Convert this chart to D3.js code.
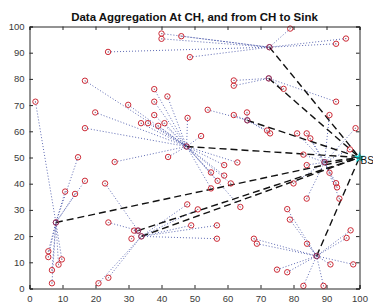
<!DOCTYPE html>
<html><head><meta charset="utf-8">
<script src="https://cdn.jsdelivr.net/npm/d3@7"></script>
<style>html,body{margin:0;padding:0;background:#fff;}svg{display:block;font-family:"Liberation Sans",Arial,sans-serif;}</style>
</head><body>
<script>
// Cluster heads
const chX = [8.0, 32.9, 33.9, 47.6, 72.7, 72.5, 66.0, 89.4, 87.0];
const chY = [25.2, 22.1, 19.9, 54.2, 92.1, 80.2, 64.2, 48.2, 12.4];
// Member nodes and the cluster head each one reports to
const nodeX = [1.8,14.7,16.8,10.8,13.8,5.7,5.7,9.8,8.8,6.8,6.8,
  22.9,23.9,30.9,31.7,20.9,23.9,47.8,51.0,49.0,56.8,56.8,
  16.8,29.9,37.8,41.8,37.8,19.9,37.8,47.9,33.8,35.9,39.0,40.9,16.8,25.8,42.0,52.0,59.0,63.0,55.0,59.0,57.0,61.0,55.0,63.9,
  40.0,40.0,46.0,23.8,48.6,79.0,95.9,92.9,
  61.9,61.9,77.0,92.9,
  54.0,61.9,65.9,72.0,72.9,
  83.0,84.0,90.9,92.9,93.2,93.9,84.0,80.0,97.1,98.8,90.9,81.1,84.0,85.1,
  78.1,78.9,84.1,96.1,97.3,75.0,78.1,91.2,98.1,83.0,89.1,68.0,68.9];
const nodeY = [71.3,50.1,41.1,37.0,36.1,14.2,12.0,11.1,9.1,7.0,2.0,
  40.1,25.2,19.0,22.1,2.0,4.1,32.1,30.2,24.1,24.1,19.0,
  79.3,70.1,76.1,73.3,71.3,67.2,66.2,65.1,63.1,63.1,62.1,63.1,61.2,48.3,50.2,58.2,47.1,48.1,44.3,43.1,41.1,40.1,38.2,31.1,
  97.3,95.3,96.3,90.3,88.3,99.2,95.4,93.4,
  79.4,77.4,76.2,71.3,
  68.2,66.2,67.2,60.3,59.2,
  51.1,47.1,44.2,40.2,38.6,34.3,34.3,40.1,53.1,61.2,66.2,59.2,59.2,57.3,
  30.3,26.3,17.1,19.3,22.2,7.2,6.2,9.2,9.2,1.0,1.0,19.0,17.1];
const nodeCH = [0,0,0,0,0,0,0,0,0,0,0,
  1,1,1,1,2,2,2,2,2,2,2,
  3,3,3,3,3,3,3,3,3,3,3,3,3,3,3,3,3,3,3,3,3,3,3,3,
  4,4,4,4,4,4,4,4,
  5,5,5,5,
  6,6,6,6,6,
  7,7,7,7,7,7,7,7,7,7,7,7,7,7,
  8,8,8,8,8,8,8,8,8,8,8,8,8];
const sink = {x: 100, y: 50, label: "BS"};
const xTicks = [0,10,20,30,40,50,60,70,80,90,100];
const yTicks = [0,10,20,30,40,50,60,70,80,90,100];
const titleText = "Data Aggregation At CH, and from CH to Sink";

(function () {
const W = 373, H = 305;
const svg = d3.select("body").append("svg").attr("width", W).attr("height", H);
const x = d3.scaleLinear().domain([0,100]).range([29.5, 359.5]);
const y = d3.scaleLinear().domain([0,100]).range([288.5, 26.5]);

// dotted member -> CH lines
const dots = svg.append("g");
nodeX.forEach((nx,i) => {
  const c = nodeCH[i];
  dots.append("line")
    .attr("x1", x(nx)).attr("y1", y(nodeY[i]))
    .attr("x2", x(chX[c])).attr("y2", y(chY[c]))
    .attr("stroke", "#2a3a9c").attr("stroke-width", 1)
    .attr("stroke-dasharray", "1,2").attr("opacity", 0.75);
});
// dashed CH -> sink lines
const dash = svg.append("g");
chX.forEach((cx,i) => {
  dash.append("line")
    .attr("x1", x(cx)).attr("y1", y(chY[i]))
    .attr("x2", x(sink.x)).attr("y2", y(sink.y))
    .attr("stroke", "#111").attr("stroke-width", 1.4)
    .attr("stroke-dasharray", "7,4");
});
// nodes
const allX = nodeX.concat(chX), allY = nodeY.concat(chY);
const ng = svg.append("g");
allX.forEach((nx,i) => {
  ng.append("circle").attr("cx", x(nx)).attr("cy", y(allY[i])).attr("r", 2.7)
    .attr("fill", "none").attr("stroke", "#cc2a36").attr("stroke-width", 1);
  ng.append("circle").attr("cx", x(nx)).attr("cy", y(allY[i])).attr("r", 0.6)
    .attr("fill", "#a08080");
});
// CH darker overlay
chX.forEach((cx,i) => {
  ng.append("circle").attr("cx", x(cx)).attr("cy", y(chY[i])).attr("r", 2.7)
    .attr("fill", "none").attr("stroke", "#55307a").attr("stroke-width", 1).attr("opacity", 0.6);
});
// sink
svg.append("path").attr("transform", `translate(${x(sink.x)},${y(sink.y)})`)
  .attr("d", d3.symbol(d3.symbolStar, 40)()).attr("fill", "#19e0e0");
svg.append("text").attr("x", x(sink.x) + 1).attr("y", y(sink.y) + 6.5)
  .attr("font-size", 10).attr("fill", "#111").text(sink.label);

// axes
const ax = svg.append("g").attr("color", "#262626");
const fmt = d3.format("d");
ax.append("g").attr("transform", `translate(0,${y(0)})`)
  .call(d3.axisBottom(x).tickValues(xTicks).tickFormat(fmt).tickSize(-3.5).tickPadding(7));
ax.append("g").attr("transform", `translate(0,${y(100)})`)
  .call(d3.axisTop(x).tickValues(xTicks).tickFormat("").tickSize(-3.5));
ax.append("g").attr("transform", `translate(${x(0)},0)`)
  .call(d3.axisLeft(y).tickValues(yTicks).tickFormat(fmt).tickSize(-3.5).tickPadding(5));
ax.append("g").attr("transform", `translate(${x(100)},0)`)
  .call(d3.axisRight(y).tickValues(yTicks).tickFormat("").tickSize(-3.5));
ax.selectAll("text").attr("font-size", 9.5).attr("fill", "#3a3a3a")
  .attr("font-family", "'Liberation Sans', Arial, sans-serif");
ax.selectAll(".domain").attr("stroke", "#262626");

// title
const t = svg.append("text").attr("x", (x(0)+x(100))/2).attr("y", 20.5)
  .attr("text-anchor", "middle").attr("font-weight", "bold").attr("font-size", 11)
  .attr("fill", "#111").text(titleText);
const len = t.node().getComputedTextLength();
t.attr("font-size", 11 * 247 / len);
})();
</script>
</body></html>
